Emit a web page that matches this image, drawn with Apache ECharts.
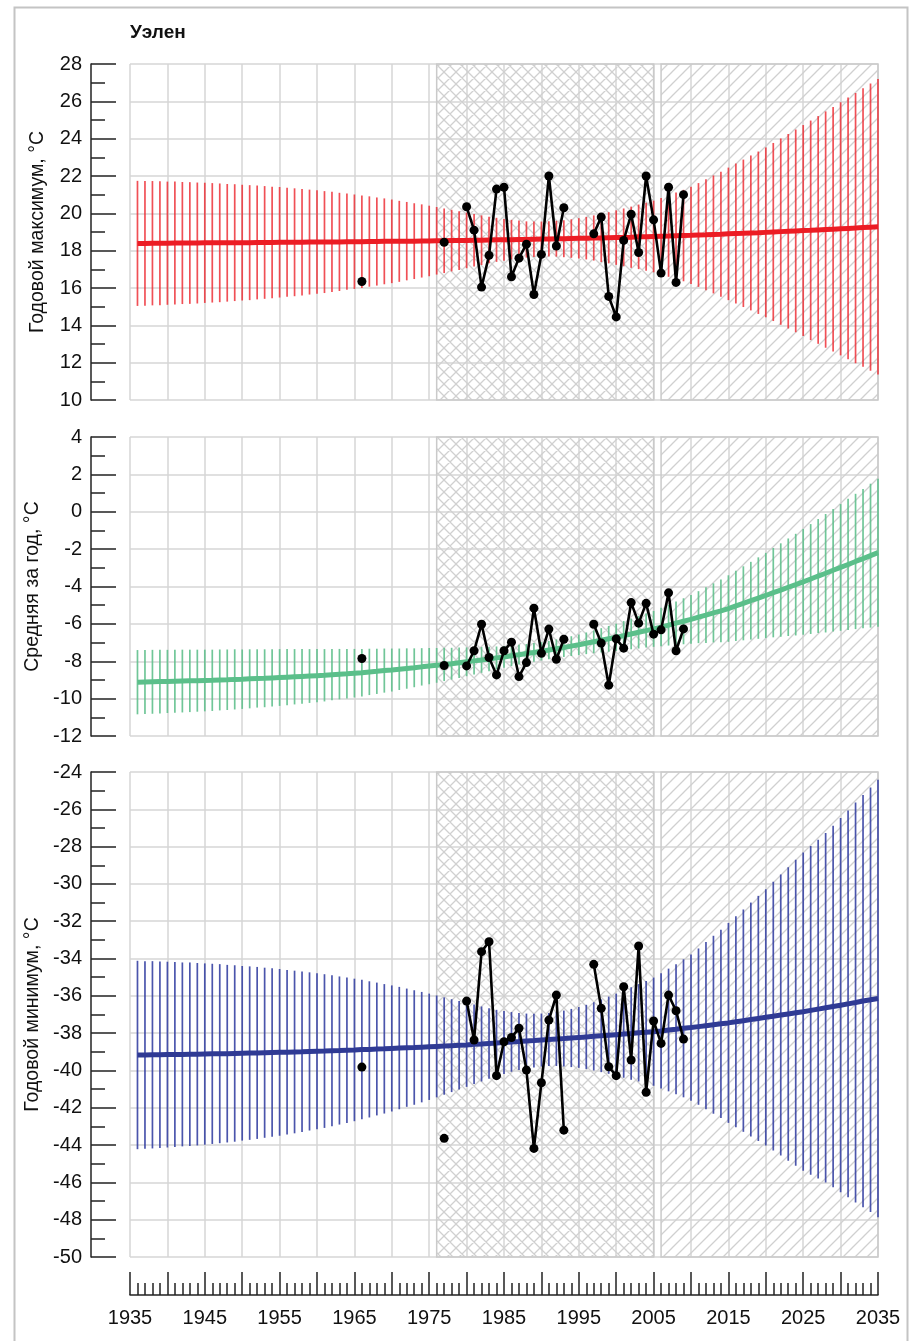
<!DOCTYPE html>
<html>
<head>
<meta charset="utf-8">
<script src="https://cdn.jsdelivr.net/npm/echarts@6.0.0/dist/echarts.min.js"></script>
<style>
html,body{margin:0;padding:0;background:#fff;}
#chart{width:909px;height:1341px;}
</style>
</head>
<body>
<div id="chart"></div>
<script>
// ---------------- DATA ----------------
const stationName = 'Уэлен';
const panelNames = ['Годовой максимум, °С', 'Средняя за год, °С', 'Годовой минимум, °С'];
const xTickStart = 1935, xTickEnd = 2035;
const crossPeriod = [1976, 2005];
const diagPeriod = [2006, 2035];

// years of the model band (one vertical bar per year)
const bandYears = Array.from({length: 100}, (_, i) => 1936 + i);

// Annual maximum: trend (bar centre) and half-width of bars
const maxCenter = [
18.39,18.39,18.40,18.40,18.40,18.41,18.41,18.41,18.41,18.42,
18.42,18.42,18.42,18.43,18.43,18.43,18.44,18.44,18.44,18.45,
18.45,18.45,18.45,18.46,18.46,18.46,18.47,18.47,18.48,18.48,
18.48,18.49,18.49,18.50,18.50,18.50,18.51,18.51,18.52,18.52,
18.53,18.53,18.54,18.54,18.55,18.56,18.56,18.57,18.58,18.58,
18.59,18.60,18.60,18.61,18.62,18.63,18.64,18.64,18.65,18.66,
18.67,18.68,18.68,18.69,18.70,18.71,18.72,18.74,18.75,18.76,
18.77,18.78,18.80,18.81,18.82,18.84,18.85,18.87,18.88,18.90,
18.92,18.93,18.95,18.96,18.98,19.00,19.02,19.04,19.06,19.08,
19.09,19.11,19.13,19.15,19.17,19.19,19.21,19.24,19.26,19.28];
const maxErr = [
3.35,3.34,3.33,3.32,3.30,3.29,3.27,3.26,3.24,3.22,
3.20,3.18,3.15,3.13,3.10,3.08,3.05,3.02,2.99,2.96,
2.92,2.89,2.85,2.81,2.77,2.73,2.68,2.63,2.58,2.53,
2.48,2.42,2.36,2.30,2.24,2.17,2.10,2.03,1.96,1.89,
1.81,1.73,1.65,1.57,1.49,1.41,1.33,1.25,1.18,1.12,
1.06,1.01,0.97,0.95,0.94,0.94,0.96,0.99,1.03,1.08,
1.14,1.21,1.29,1.37,1.46,1.55,1.64,1.73,1.82,1.92,
2.05,2.18,2.31,2.45,2.60,2.78,2.97,3.16,3.35,3.55,
3.75,3.95,4.15,4.35,4.55,4.77,4.99,5.21,5.43,5.65,
5.88,6.10,6.33,6.55,6.78,7.01,7.24,7.46,7.69,7.92];

// Annual mean
const meanCenter = [
-9.12,-9.11,-9.10,-9.09,-9.08,-9.07,-9.06,-9.05,-9.04,-9.03,
-9.02,-9.00,-8.99,-8.97,-8.96,-8.94,-8.92,-8.91,-8.89,-8.87,
-8.85,-8.83,-8.81,-8.79,-8.77,-8.75,-8.72,-8.69,-8.67,-8.64,
-8.61,-8.57,-8.54,-8.50,-8.47,-8.43,-8.39,-8.35,-8.30,-8.26,
-8.22,-8.17,-8.13,-8.08,-8.03,-7.98,-7.93,-7.88,-7.82,-7.77,
-7.71,-7.65,-7.59,-7.53,-7.47,-7.40,-7.33,-7.26,-7.19,-7.12,
-7.04,-6.96,-6.88,-6.80,-6.72,-6.63,-6.54,-6.45,-6.36,-6.27,
-6.17,-6.07,-5.96,-5.86,-5.76,-5.64,-5.53,-5.41,-5.30,-5.18,
-5.04,-4.90,-4.76,-4.62,-4.48,-4.33,-4.19,-4.04,-3.90,-3.75,
-3.60,-3.44,-3.29,-3.13,-2.98,-2.82,-2.66,-2.51,-2.35,-2.19];
const meanErr = [
1.72,1.71,1.71,1.70,1.69,1.69,1.68,1.67,1.66,1.65,
1.64,1.63,1.62,1.61,1.59,1.58,1.56,1.55,1.53,1.52,
1.50,1.48,1.46,1.44,1.42,1.40,1.37,1.35,1.32,1.30,
1.27,1.24,1.21,1.18,1.15,1.11,1.08,1.04,1.00,0.97,
0.93,0.89,0.85,0.81,0.77,0.73,0.69,0.65,0.61,0.58,
0.55,0.53,0.51,0.50,0.49,0.49,0.50,0.51,0.53,0.55,
0.58,0.61,0.65,0.69,0.73,0.78,0.82,0.87,0.91,0.96,
1.03,1.09,1.16,1.23,1.30,1.39,1.49,1.58,1.68,1.78,
1.88,1.98,2.08,2.18,2.28,2.39,2.50,2.61,2.72,2.83,
2.94,3.05,3.17,3.28,3.39,3.51,3.62,3.73,3.85,3.96];

// Annual minimum
const minCenter = [
-39.17,-39.17,-39.16,-39.16,-39.15,-39.14,-39.14,-39.13,-39.13,-39.12,
-39.11,-39.10,-39.10,-39.09,-39.08,-39.07,-39.06,-39.05,-39.04,-39.03,
-39.02,-39.01,-39.00,-38.98,-38.97,-38.96,-38.94,-38.93,-38.91,-38.90,
-38.88,-38.87,-38.85,-38.84,-38.82,-38.80,-38.78,-38.77,-38.75,-38.73,
-38.71,-38.69,-38.67,-38.65,-38.63,-38.60,-38.58,-38.55,-38.53,-38.50,
-38.47,-38.45,-38.42,-38.40,-38.37,-38.34,-38.31,-38.29,-38.26,-38.23,
-38.20,-38.17,-38.14,-38.11,-38.08,-38.05,-38.02,-37.98,-37.95,-37.92,
-37.88,-37.83,-37.79,-37.74,-37.70,-37.65,-37.60,-37.55,-37.50,-37.45,
-37.39,-37.33,-37.27,-37.21,-37.15,-37.09,-37.03,-36.97,-36.91,-36.85,
-36.78,-36.71,-36.64,-36.57,-36.50,-36.43,-36.36,-36.28,-36.21,-36.14];
const minErr = [
5.05,5.03,5.02,5.00,4.98,4.96,4.93,4.92,4.89,4.86,
4.83,4.80,4.76,4.73,4.68,4.65,4.61,4.56,4.52,4.47,
4.41,4.36,4.30,4.24,4.18,4.12,4.05,3.97,3.90,3.82,
3.74,3.65,3.56,3.47,3.38,3.28,3.17,3.07,2.96,2.85,
2.73,2.61,2.49,2.37,2.25,2.13,2.01,1.89,1.78,1.69,
1.60,1.53,1.47,1.44,1.42,1.42,1.45,1.50,1.56,1.63,
1.72,1.83,1.95,2.07,2.20,2.34,2.48,2.61,2.75,2.90,
3.09,3.29,3.49,3.70,3.92,4.19,4.48,4.77,5.05,5.36,
5.66,5.96,6.27,6.57,6.87,7.20,7.53,7.87,8.20,8.53,
8.81,9.08,9.37,9.69,10.03,10.37,10.72,11.05,11.38,11.73];

// Observations (null = no data)
const obsYears = Array.from({length: 44}, (_, i) => 1966 + i); // 1966..2009
const obsMax = [
16.35,null,null,null,null,null,null,null,null,null,null,
18.45,null,null,
20.35,19.10,16.05,17.75,21.30,21.40,16.60,17.60,18.35,15.65,17.80,22.00,18.25,20.30,
null,null,null,
18.90,19.80,15.55,14.45,18.55,19.95,17.90,22.00,19.65,16.80,21.40,16.30,21.00];
const obsMean = [
-7.85,null,null,null,null,null,null,null,null,null,null,
-8.23,null,null,
-8.25,-7.44,-6.02,-7.80,-8.73,-7.44,-6.98,-8.82,-8.07,-5.16,-7.57,-6.28,-7.89,-6.82,
null,null,null,
-6.02,-7.03,-9.28,-6.80,-7.30,-4.86,-5.96,-4.90,-6.55,-6.32,-4.34,-7.44,-6.27];
const obsMin = [
-39.82,null,null,null,null,null,null,null,null,null,null,
-43.64,null,null,
-36.28,-38.37,-33.63,-33.10,-40.28,-38.46,-38.23,-37.74,-39.98,-44.18,-40.66,-37.30,-35.96,-43.20,
null,null,null,
-34.31,-36.67,-39.80,-40.28,-35.51,-39.44,-33.33,-41.17,-37.35,-38.55,-35.96,-36.80,-38.32];

// y-axis ranges
const yRanges = [[10, 28], [-12, 4], [-50, -24]];

// ---------------- CHART ----------------
const FONT = 'Liberation Sans, Arial, Helvetica, sans-serif';
const grids = [
  {left: 130, top: 64, width: 748, height: 336},
  {left: 130, top: 437, width: 748, height: 299},
  {left: 130, top: 772, width: 748, height: 485}
];
const colors = [
  {trend: '#ec1c24', bar: 'rgba(236,36,44,0.8)'},
  {trend: '#5bbf8a', bar: 'rgba(92,190,138,0.88)'},
  {trend: '#2f3a94', bar: 'rgba(50,62,160,0.88)'}
];
const centers = [maxCenter, meanCenter, minCenter];
const errs = [maxErr, meanErr, minErr];
const obs = [obsMax, obsMean, obsMin];

function makePattern(cross) {
  const s = 12;
  const c = document.createElement('canvas');
  c.width = s; c.height = s;
  const g = c.getContext('2d');
  g.strokeStyle = '#d0d0d0';
  g.lineWidth = 1.3;
  g.beginPath();
  g.moveTo(-1, s + 1); g.lineTo(s + 1, -1);
  g.moveTo(-1, 1); g.lineTo(1, -1);
  g.moveTo(s - 1, s + 1); g.lineTo(s + 1, s - 1);
  if (cross) {
    g.moveTo(-1, -1); g.lineTo(s + 1, s + 1);
    g.moveTo(s - 1, -1); g.lineTo(s + 1, 1);
    g.moveTo(-1, s - 1); g.lineTo(1, s + 1);
  }
  g.stroke();
  return c;
}
const crossPat = {image: makePattern(true), repeat: 'repeat'};
const diagPat = {image: makePattern(false), repeat: 'repeat'};

const xAxes = grids.map((g, i) => {
  const last = i === grids.length - 1;
  return {
    type: 'value', gridIndex: i, min: xTickStart, max: xTickEnd, interval: 5,
    position: 'bottom', offset: last ? 38 : 0,
    axisLine: {show: last, onZero: false, lineStyle: {color: '#222', width: 1.5}},
    axisTick: {show: last, inside: true, length: 23, lineStyle: {color: '#222', width: 1.5}},
    minorTick: {show: last, splitNumber: 5, length: 12, lineStyle: {color: '#222', width: 1.5}},
    axisLabel: {
      show: last, margin: 13, fontSize: 20, color: '#111', fontFamily: FONT,
      formatter: v => ((v - xTickStart) % 10 === 0 ? String(v) : '')
    },
    splitLine: {show: true, lineStyle: {color: '#d6d6d6', width: 1.5}}
  };
});

const yAxes = grids.map((g, i) => ({
  type: 'value', gridIndex: i, min: yRanges[i][0], max: yRanges[i][1], interval: 2,
  position: 'left', offset: 39,
  name: panelNames[i], nameLocation: 'middle', nameGap: 43, nameRotate: 90,
  nameTextStyle: {fontSize: 19.5, color: '#111', fontFamily: FONT},
  axisLine: {show: true, lineStyle: {color: '#222', width: 1.5}},
  axisTick: {show: true, inside: true, length: 25, lineStyle: {color: '#222', width: 1.5}},
  minorTick: {show: true, splitNumber: 2, length: 14, lineStyle: {color: '#222', width: 1.5}},
  axisLabel: {margin: 9, fontSize: 20, color: '#111', fontFamily: FONT},
  splitLine: {show: true, lineStyle: {color: '#d6d6d6', width: 1.5}}
}));

const series = [];
grids.forEach((g, i) => {
  const barColor = colors[i].bar;
  series.push({
    type: 'custom', xAxisIndex: i, yAxisIndex: i, z: 3, silent: true,
    data: bandYears.map((y, k) => [y, centers[i][k], errs[i][k]]),
    encode: {x: 0, y: 1},
    renderItem: function (params, api) {
      const x = api.value(0), c = api.value(1), e = api.value(2);
      const p1 = api.coord([x, c + e]);
      const p2 = api.coord([x, c - e]);
      return {type: 'line', shape: {x1: p1[0], y1: p1[1], x2: p2[0], y2: p2[1]},
        style: {stroke: barColor, lineWidth: 1.7}};
    }
  });
  series.push({
    type: 'line', xAxisIndex: i, yAxisIndex: i, z: 4, silent: true,
    data: bandYears.map((y, k) => [y, centers[i][k]]),
    showSymbol: false, smooth: false,
    lineStyle: {color: colors[i].trend, width: 5},
    markArea: {
      silent: true, z: 1,
      data: [
        [{xAxis: crossPeriod[0], itemStyle: {color: crossPat, borderColor: '#cacaca', borderWidth: 1.5}}, {xAxis: crossPeriod[1]}],
        [{xAxis: diagPeriod[0], itemStyle: {color: diagPat, borderColor: '#cacaca', borderWidth: 1.5}}, {xAxis: diagPeriod[1]}]
      ]
    }
  });
  series.push({
    type: 'line', xAxisIndex: i, yAxisIndex: i, z: 5, silent: true,
    data: obsYears.map((y, k) => [y, obs[i][k]]),
    connectNulls: false,
    symbol: 'circle', symbolSize: 9, showSymbol: true,
    itemStyle: {color: '#000'},
    lineStyle: {color: '#000', width: 2.6}
  });
});

const chart = echarts.init(document.getElementById('chart'), null, {renderer: 'canvas'});
chart.setOption({
  animation: false,
  backgroundColor: '#fff',
  title: {text: stationName, left: 130, top: 23, padding: 0,
    textStyle: {fontSize: 19, fontWeight: 'bold', color: '#111', fontFamily: FONT}},
  graphic: [{
    type: 'rect', left: 12, top: 5, silent: true, z: -10,
    shape: {width: 893, height: 1340},
    style: {fill: 'none', stroke: '#c4c4c4', lineWidth: 2}
  }],
  grid: grids.map(g => Object.assign({outerBoundsMode: 'none', containLabel: false}, g)),
  xAxis: xAxes,
  yAxis: yAxes,
  series: series
});
</script>
</body>
</html>
